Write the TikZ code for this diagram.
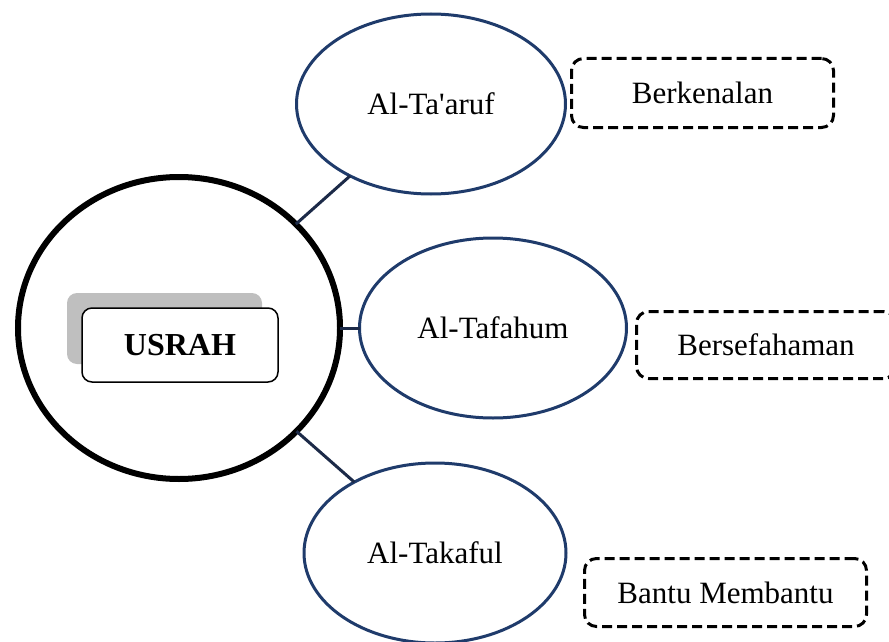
\documentclass[tikz,border=0pt]{standalone}
\usepackage{fontspec}
\setmainfont{Liberation Serif}[Ligatures=TeXOff]
\usetikzlibrary{shapes.geometric}
\definecolor{ringblue}{HTML}{1F3B6B}
\definecolor{linknavy}{HTML}{1C2A48}
\definecolor{shadowgray}{HTML}{BFBFBF}

\begin{document}
\begin{tikzpicture}[x=1pt, y=-1pt,
          every node/.style = {inner sep = 0pt,
                               outer sep = 0pt,
                               font      = \fontsize{31}{36}\selectfont},
          hub/.style        = {ellipse,
                               draw,
                               line width     = 6pt,
                               minimum width  = 322pt,
                               minimum height = 302pt},
          pillar/.style     = {ellipse,
                               draw           = ringblue,
                               fill           = white,
                               line width     = 3pt,
                               minimum height = 180pt},
          meaning/.style    = {draw,
                               dashed,
                               dash pattern   = on 10pt off 5pt,
                               rounded corners = 12pt,
                               line width     = 3pt},
          link/.style       = {draw           = linknavy,
                               line width     = 3pt}]
  \useasboundingbox (0,0) rectangle (889,642);

  \path (179,328)   coordinate (hubc)
        (431,104)   coordinate (p1)
        (493,328)   coordinate (p2)
        (435,553)   coordinate (p3);

  % centre
  \node [hub] (usrah ring) at (hubc) {};
  \node [fill            = shadowgray,
         rounded corners = 10pt,
         minimum width   = 195pt,
         minimum height  = 71pt] (usrah shadow) at (164.5,328.5) {};
  \node [draw,
         fill            = white,
         line width      = 1.5pt,
         rounded corners = 10pt,
         minimum width   = 196pt,
         minimum height  = 74pt,
         font            = \fontsize{32}{36}\selectfont\bfseries] (usrah) at (180,345) {USRAH};

  % the three pillars
  \node [pillar, minimum width = 269pt] (taaruf)  at (p1) {Al-Ta'aruf};
  \node [pillar, minimum width = 267pt] (tafahum) at (p2) {Al-Tafahum};
  \node [pillar, minimum width = 262pt] (takaful) at (p3) {Al-Takaful};

  \draw [link] (usrah ring) -- (taaruf);
  \draw [link] (usrah ring) -- (tafahum);
  \draw [link] (usrah ring) -- (takaful);

  % meanings
  \node [meaning,
         minimum width  = 262pt,
         minimum height = 69pt] (kenal) at (702.5,93)   {Berkenalan};
  \node [meaning,
         minimum width  = 259pt,
         minimum height = 67pt] (faham) at (766,345)    {Bersefahaman};
  \node [meaning,
         minimum width  = 282pt,
         minimum height = 68pt] (bantu) at (725.5,592.5) {Bantu Membantu};
\end{tikzpicture}
\end{document}
